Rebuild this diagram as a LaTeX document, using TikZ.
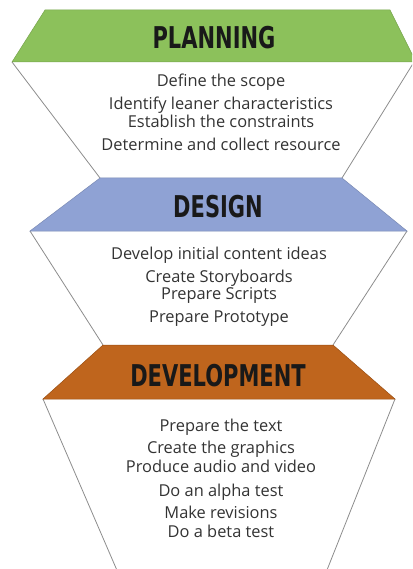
\documentclass[tikz,border=0pt]{standalone}
\usepackage{xcolor}
\usepackage{fontspec}
\setmainfont{Open Sans}
\newfontfamily\headfont[FakeStretch=0.7]{DejaVu Sans Bold}
\usepackage{tikz}

\definecolor{planGreen}{HTML}{8CC15B}
\definecolor{designBlue}{HTML}{8FA2D4}
\definecolor{devOrange}{HTML}{BF651D}
\definecolor{devEdge}{HTML}{9A4E12}
\definecolor{sideGray}{HTML}{8C8C8C}
\definecolor{bodyText}{HTML}{333333}

\begin{document}
\begin{tikzpicture}[x=1pt, y=-1pt,
    band/.style={draw=#1!85!black, line width=0.5pt, fill=#1},
    side/.style={draw=sideGray, line width=0.8pt},
    head/.style={font=\headfont\fontsize{30}{30}\selectfont, text=black!90, inner sep=0pt},
    item/.style={font=\fontsize{16.4}{16.4}\selectfont, text=bodyText, anchor=base, inner sep=0pt}
]
    \useasboundingbox (0,0) rectangle (412,569);
    \clip (0,0) rectangle (412,569);

    % white funnels below each header band
    \draw[side] (12,62) -- (100,178) (414,62) -- (342,178);
    \draw[side] (30,231) -- (103,345) (407,231) -- (333,345);
    \draw[side] (43,399) -- (119,575) (395,399) -- (325,575);

    % header bands
    \draw[band=planGreen] (45,10) -- (390,10) -- (416,62) -- (12,62) -- cycle;
    \draw[band=designBlue] (100,178) -- (342,178) -- (407,231) -- (30,231) -- cycle;
    \draw[band=devOrange, draw=devEdge] (103,345) -- (333,345) -- (395,399) -- (43,399) -- cycle;

    \node[head] (planning) at (214,38) {PLANNING};
    \node[head] (design) at (218,207) {DESIGN};
    \node[head] (development) at (218,376) {DEVELOPMENT};

    % steps of each stage
    \foreach \txt/\yy [count=\i] in {Define the scope/87, Identify leaner characteristics/110,
        Establish the constraints/128, Determine and collect resource/151}
        \node[item] (plan\i) at (221,\yy) {\txt};

    \foreach \txt/\yy [count=\i] in {Develop initial content ideas/259, Create Storyboards/282,
        Prepare Scripts/299, Prepare Prototype/322}
        \node[item] (des\i) at (219,\yy) {\txt};

    \foreach \txt/\yy [count=\i] in {Prepare the text/431, Create the graphics/453,
        Produce audio and video/472, Do an alpha test/496,
        Make revisions/518, Do a beta test/537}
        \node[item] (dev\i) at (221,\yy) {\txt};
\end{tikzpicture}
\end{document}
